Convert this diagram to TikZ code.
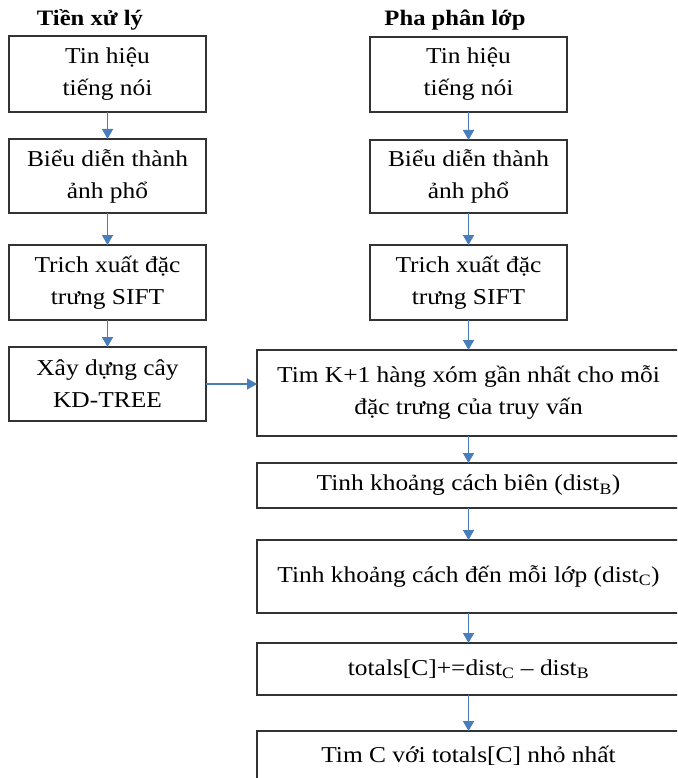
\documentclass[tikz,border=0pt]{standalone}
\usepackage{fontspec}
\setmainfont{Liberation Serif}[FakeStretch=1.12]
\usepackage{xcolor}
\usepackage{tikz}
\usetikzlibrary{arrows.meta,positioning}

\definecolor{flowblue}{RGB}{74,126,187}

\begin{document}
\begin{tikzpicture}[
  x=1pt, y=-1pt,
  stepbox/.style={draw=black!80, line width=2pt, outer sep=0pt, align=center, inner sep=2pt,
    minimum width=197pt, font=\fontsize{22.7}{32}\selectfont},
  widebox/.style={stepbox, minimum width=423pt},
  heading/.style={anchor=base, font=\fontsize{22}{26}\selectfont\bfseries},
  line/.style={-{Triangle[length=10pt,width=11pt]}, line width=1.6pt, draw=flowblue}
]
\useasboundingbox (0,0) rectangle (677,778);
\clip (0,0) rectangle (677,778);

% headings
\node[heading] (titlepre) at (90,26) {Tiền xử lý};
\node[heading] (titlecls) at (455,26) {Pha phân lớp};

% preprocessing column
\node[stepbox, minimum height=76pt] (pre1) at (107.5,74) {Tin hiệu\\tiếng nói};
\node[stepbox, minimum height=74pt, below=27pt of pre1] (pre2) {Biểu diễn thành\\ảnh phổ};
\node[stepbox, minimum height=75pt, below=32pt of pre2] (pre3) {Trich xuất đặc\\trưng SIFT};
\node[stepbox, minimum height=74pt, below=27pt of pre3] (pre4) {Xây dựng cây\\KD-TREE};

% classification column
\node[stepbox, minimum height=75pt] (cls1) at (468.5,74.5) {Tin hiệu\\tiếng nói};
\node[stepbox, minimum height=73pt, below=28pt of cls1] (cls2) {Biểu diễn thành\\ảnh phổ};
\node[stepbox, minimum height=75pt, below=32pt of cls2] (cls3) {Trich xuất đặc\\trưng SIFT};
\node[widebox, minimum height=86pt, below=30pt of cls3] (knn) {Tim K+1 hàng xóm gần nhất cho mỗi\\đặc trưng của truy vấn};
\node[widebox, minimum height=45pt, below=27pt of knn] (distb) {Tinh khoảng cách biên (dist\textsubscript{B})};
\node[widebox, minimum height=73pt, below=32pt of distb] (distc) {Tinh khoảng cách đến mỗi lớp (dist\textsubscript{C})};
\node[widebox, minimum height=52pt, below=30pt of distc] (total) {totals[C]+=dist\textsubscript{C} – dist\textsubscript{B}};
\node[widebox, minimum height=49pt, below=36pt of total] (best) {Tim C với totals[C] nhỏ nhất};

\draw[line] (pre1) -- (pre2);
\draw[line] (pre2) -- (pre3);
\draw[line] (pre3) -- (pre4);
\draw[line] (pre4.east) -- (pre4.east -| knn.west);
\draw[line] (cls1) -- (cls2);
\draw[line] (cls2) -- (cls3);
\draw[line] (cls3) -- (knn);
\draw[line] (knn) -- (distb);
\draw[line] (distb) -- (distc);
\draw[line] (distc) -- (total);
\draw[line] (total) -- (best);

\end{tikzpicture}
\end{document}
